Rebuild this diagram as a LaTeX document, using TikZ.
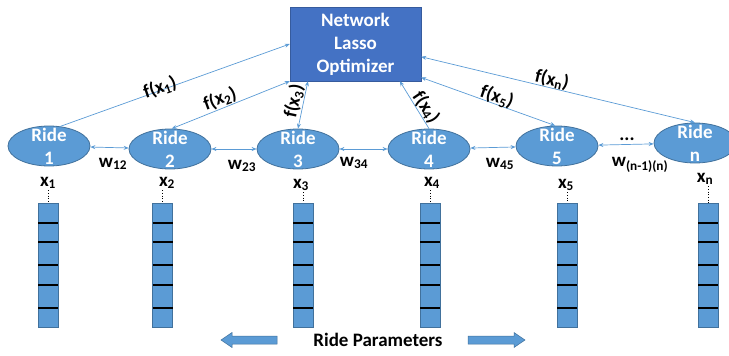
\documentclass[tikz,border=0pt]{standalone}
\usepackage{fontspec}
\setmainfont{Carlito}
\usetikzlibrary{shapes.geometric,arrows.meta}

\definecolor{optblue}{HTML}{4472C4}
\definecolor{rideblue}{HTML}{5B9BD5}
\definecolor{edgeblue}{HTML}{41719C}

\begin{document}
\begin{tikzpicture}[x=1pt,y=-1pt,
  font=\fontsize{19}{23}\selectfont\bfseries,
  >={Stealth[length=5pt,width=4pt]},
  optbox/.style={rectangle,fill=optblue,draw=optblue!80!black,text=white,align=center,
    minimum width=131pt,minimum height=74pt,inner sep=0pt},
  ride/.style={ellipse,fill=rideblue,draw=edgeblue,line width=0.8pt,
    minimum width=82pt,minimum height=40pt,inner sep=0pt},
  ridetxt/.style={text=white,align=center,inner sep=0pt},
  link/.style={draw=rideblue,line width=0.7pt},
  bar/.style={rectangle,fill=rideblue,draw=edgeblue,line width=0.6pt,
    minimum width=20pt,minimum height=124pt,inner sep=0pt},
  sep/.style={black,line width=1.6pt},
  lbl/.style={inner sep=1pt},
  bigarrow/.style={fill=rideblue,draw=edgeblue,line width=0.5pt}]
\useasboundingbox (0,0) rectangle (729,356);
\clip (0,0) rectangle (729,356);
% optimizer
\node[optbox] (opt) at (355.5,44) {Network\\Lasso\\Optimizer};
% rides
\node[ride] (r1) at (49,146) {};
\node[ridetxt] at (r1) {Ride\\1};
\node[ride] (r2) at (170,149) {};
\node[ridetxt] at (r2) {Ride\\2};
\node[ride] (r3) at (298,149) {};
\node[ridetxt] at (r3) {Ride\\3};
\node[ride] (r4) at (429,149) {};
\node[ridetxt] at (r4) {Ride\\4};
\node[ride] (r5) at (557,146) {};
\node[ridetxt] at (r5) {Ride\\5};
\node[ride] (rn) at (695,143) {};
\node[ridetxt] at (rn) {Ride\\n};
% edges between rides
\draw[link,<->] (r1) -- (r2);
\draw[link,<->] (r2) -- (r3);
\draw[link,<->] (r3) -- (r4);
\draw[link,<->] (r4) -- (r5);
\draw[link,<->] (r5) -- (rn);
\node[lbl] (w12) at (113,164) {w\textsubscript{12}};
\node[lbl] (w23) at (242,166) {w\textsubscript{23}};
\node[lbl] (w34) at (354,163) {w\textsubscript{34}};
\node[lbl] (w45) at (500,164) {w\textsubscript{45}};
\node[lbl] (wn) at (640,165) {w\textsubscript{(n-1)(n)}};
\node[lbl] (dots) at (627,139) {...};
% rides to optimizer
\draw[link,->] (r1.60) -- (opt.west);
\draw[link,<->] (r2.85) -- (opt.south west);
\draw[link,<->] (r3.north) -- (opt.218);
\draw[link,->] (r4.north) -- (opt.320);
\draw[link,<->] (r5.95) -- (opt.333);
\draw[link,<->] (rn.north) -- (opt.349);
\node[lbl,rotate=19] (f1) at (160,88) {f(x\textsubscript{1})};
\node[lbl,rotate=20] (f2) at (220,99) {f(x\textsubscript{2})};
\node[lbl,rotate=78] (f3) at (294,101) {f(x\textsubscript{3})};
\node[lbl,rotate=-56] (f4) at (426,107) {f(x\textsubscript{4})};
\node[lbl,rotate=-19] (f5) at (497,97) {f(x\textsubscript{5})};
\node[lbl,rotate=-13] (fn) at (552,80) {f(x\textsubscript{n})};
% parameter vectors
\foreach \i/\x in {1/48,2/162.5,3/303,4/430,5/567,n/708} {
  \node[bar] (b\i) at (\x,265) {};
  \foreach \y in {223,242,265,285,308}
    \draw[sep] (\x-10,\y) -- (\x+10,\y);
}
\node[lbl] (x1) at (48,183) {x\textsubscript{1}};
\node[lbl] (x2) at (167,183) {x\textsubscript{2}};
\node[lbl] (x3) at (301,185) {x\textsubscript{3}};
\node[lbl] (x4) at (432,183) {x\textsubscript{4}};
\node[lbl] (x5) at (566,185) {x\textsubscript{5}};
\node[lbl] (xn) at (705,179) {x\textsubscript{n}};
\foreach \i in {1,2,3,4,5,n}
  \draw[dotted,line width=0.7pt] (b\i.north |- x\i.south) -- (b\i.north);
% bottom
\draw[bigarrow] (221,340) -- (232,332.5) -- (232,336) -- (277,336) -- (277,344)
  -- (232,344) -- (232,347.5) -- cycle;
\draw[bigarrow] (525,340) -- (514,332.5) -- (514,336) -- (468,336) -- (468,344)
  -- (514,344) -- (514,347.5) -- cycle;
\node[lbl] (rp) at (378,340) {Ride Parameters};
\end{tikzpicture}
\end{document}
